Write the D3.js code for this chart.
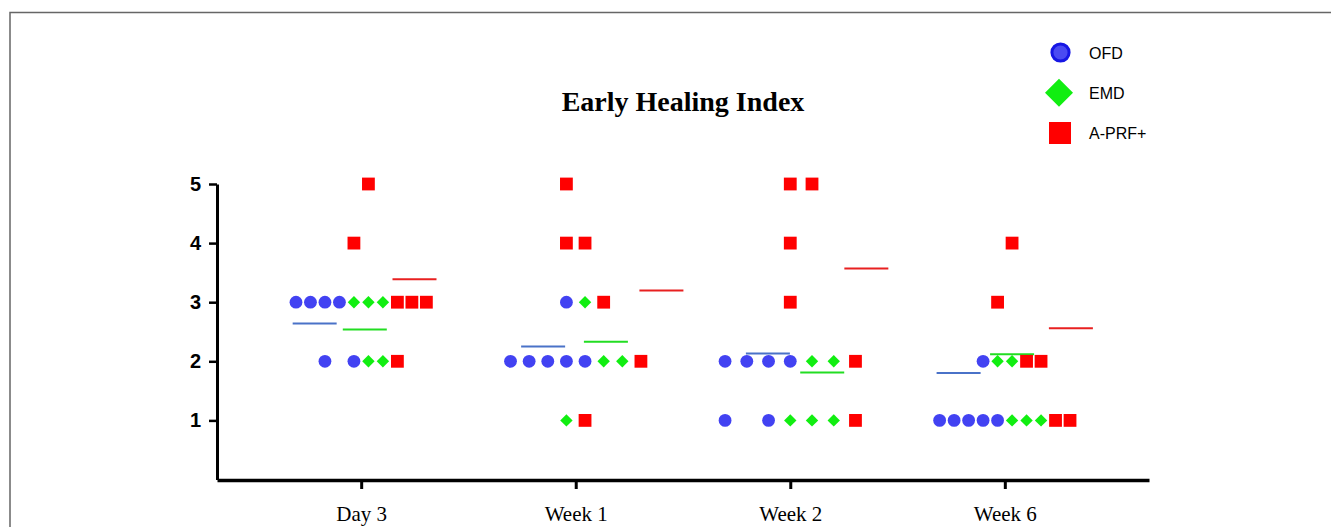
<!doctype html>
<html lang="en">
<head>
  <meta charset="UTF-8">
  <title>Early Healing Index</title>
  <script src="https://cdn.jsdelivr.net/npm/d3@7"></script>
  <style>
    body { margin: 0; background: #fff; }
  </style>
</head>
<body>
<div id="chart"></div>
<script type="text/javascript">
var groups = ['Day 3', 'Week 1', 'Week 2', 'Week 6'];
// number of side-by-side columns used by the scatter in each group
var slotCount = [10, 8, 7, 10];

var seriesNames = ['OFD', 'EMD', 'A-PRF+'];

// [group, score, column]
var ofdPoints = [
  ['Day 3', 3, 0], ['Day 3', 3, 1], ['Day 3', 3, 2], ['Day 3', 3, 3], ['Day 3', 2, 2], ['Day 3', 2, 4],
  ['Week 1', 3, 3], ['Week 1', 2, 0], ['Week 1', 2, 1], ['Week 1', 2, 2], ['Week 1', 2, 3], ['Week 1', 2, 4],
  ['Week 2', 2, 0], ['Week 2', 2, 1], ['Week 2', 2, 2], ['Week 2', 2, 3], ['Week 2', 1, 0], ['Week 2', 1, 2],
  ['Week 6', 2, 3], ['Week 6', 1, 0], ['Week 6', 1, 1], ['Week 6', 1, 2], ['Week 6', 1, 3], ['Week 6', 1, 4]
];
var emdPoints = [
  ['Day 3', 3, 4], ['Day 3', 3, 5], ['Day 3', 3, 6], ['Day 3', 2, 5], ['Day 3', 2, 6],
  ['Week 1', 3, 4], ['Week 1', 2, 5], ['Week 1', 2, 6], ['Week 1', 1, 3],
  ['Week 2', 2, 4], ['Week 2', 2, 5], ['Week 2', 1, 3], ['Week 2', 1, 4], ['Week 2', 1, 5],
  ['Week 6', 2, 4], ['Week 6', 2, 5], ['Week 6', 1, 5], ['Week 6', 1, 6], ['Week 6', 1, 7]
];
var aprfPoints = [
  ['Day 3', 5, 5], ['Day 3', 4, 4], ['Day 3', 3, 7], ['Day 3', 3, 8], ['Day 3', 3, 9], ['Day 3', 2, 7],
  ['Week 1', 5, 3], ['Week 1', 4, 3], ['Week 1', 4, 4], ['Week 1', 3, 5], ['Week 1', 2, 7], ['Week 1', 1, 4],
  ['Week 2', 5, 3], ['Week 2', 5, 4], ['Week 2', 4, 3], ['Week 2', 3, 3], ['Week 2', 2, 6], ['Week 2', 1, 6],
  ['Week 6', 4, 5], ['Week 6', 3, 4], ['Week 6', 2, 6], ['Week 6', 2, 7], ['Week 6', 1, 8], ['Week 6', 1, 9]
];

// mean per group, and the column the mean bar is centred on
var ofdMean = [2.64, 2.25, 2.13, 1.80];
var emdMean = [2.54, 2.33, 1.81, 2.12];
var aprfMean = [3.39, 3.20, 3.57, 2.56];
var ofdMeanCol = [1.29, 1.75, 1.97, 1.31];
var emdMeanCol = [4.75, 5.12, 4.47, 5.0];
var aprfMeanCol = [8.18, 8.10, 6.5, 9.06];

var yTicks = [1, 2, 3, 4, 5];

var width = 1331, height = 527;
var svg = d3.select('#chart').append('svg')
  .attr('width', width)
  .attr('height', height);

// frame
svg.append('rect')
  .attr('x', 10).attr('y', 12.5)
  .attr('width', width + 20).attr('height', height + 20)
  .attr('fill', 'none')
  .attr('stroke', '#666')
  .attr('stroke-width', 1.5);

var x = d3.scalePoint().domain(groups).range([217, 1149]).padding(0.672);
var y = d3.scaleLinear().domain([0, 5]).range([479.5, 184]);

function inner(g) {
  var n = slotCount[groups.indexOf(g)];
  return d3.scaleLinear().domain([0, n - 1]).range([-65.2, 65.2]);
}
function px(d) { return x(d[0]) + inner(d[0])(d[2]); }

// axes
var yAxis = svg.append('g')
  .attr('transform', 'translate(217,0)')
  .call(d3.axisLeft(y).tickValues(yTicks).tickFormat(d3.format('d'))
    .tickSize(8).tickSizeOuter(0).tickPadding(8));
yAxis.select('.domain').attr('stroke-width', 3).attr('stroke', '#000');
yAxis.selectAll('.tick line').attr('stroke-width', 2.5).attr('stroke', '#000');
yAxis.selectAll('.tick text')
  .style('font-family', 'Liberation Sans, Arial, sans-serif')
  .style('font-weight', 'bold')
  .style('font-size', '20px')
  .attr('fill', '#000');

var xAxis = svg.append('g')
  .attr('transform', 'translate(0,480)')
  .call(d3.axisBottom(x).tickSize(9).tickSizeOuter(0).tickPadding(17));
xAxis.select('.domain').attr('stroke-width', 3.5).attr('stroke', '#000');
xAxis.selectAll('.tick line').attr('stroke-width', 3).attr('stroke', '#000');
xAxis.selectAll('.tick text')
  .style('font-family', 'Liberation Serif, Times New Roman, serif')
  .style('font-size', '21px')
  .attr('fill', '#000');

// title
svg.append('text')
  .attr('x', 683).attr('y', 111)
  .attr('text-anchor', 'middle')
  .style('font-family', 'Liberation Serif, Times New Roman, serif')
  .style('font-weight', 'bold')
  .style('font-size', '28px')
  .text('Early Healing Index');

// mean bars
function meanBars(means, cols, color) {
  svg.append('g').selectAll('line')
    .data(groups)
    .enter().append('line')
    .attr('x1', function(g, i) { return x(g) + inner(g)(cols[i]) - 22; })
    .attr('x2', function(g, i) { return x(g) + inner(g)(cols[i]) + 22; })
    .attr('y1', function(g, i) { return y(means[i]); })
    .attr('y2', function(g, i) { return y(means[i]); })
    .attr('stroke', color)
    .attr('stroke-width', 2);
}
meanBars(ofdMean, ofdMeanCol, '#4a72c8');
meanBars(emdMean, emdMeanCol, '#22dd22');
meanBars(aprfMean, aprfMeanCol, '#e82020');

// points
svg.append('g').selectAll('circle')
  .data(ofdPoints)
  .enter().append('circle')
  .attr('cx', px)
  .attr('cy', function(d) { return y(d[1]); })
  .attr('r', 6.4)
  .attr('fill', '#4242f2');

svg.append('g').selectAll('path')
  .data(emdPoints)
  .enter().append('path')
  .attr('transform', function(d) { return 'translate(' + px(d) + ',' + y(d[1]) + ')'; })
  .attr('d', 'M0,-6.2L6.2,0L0,6.2L-6.2,0Z')
  .attr('fill', '#11ee11');

svg.append('g').selectAll('rect')
  .data(aprfPoints)
  .enter().append('rect')
  .attr('x', function(d) { return px(d) - 6.4; })
  .attr('y', function(d) { return y(d[1]) - 6.4; })
  .attr('width', 12.8)
  .attr('height', 12.8)
  .attr('fill', '#ff0000');

// legend
var legend = svg.append('g');
var legendY = d3.scalePoint().domain(seriesNames).range([52.5, 133]);
legend.append('circle')
  .attr('cx', 1060.5).attr('cy', legendY('OFD'))
  .attr('r', 8.6)
  .attr('fill', '#4a4af2')
  .attr('stroke', '#1616e4')
  .attr('stroke-width', 3);
legend.append('path')
  .attr('transform', 'translate(1059,' + legendY('EMD') + ')')
  .attr('d', 'M0,-14L14,0L0,14L-14,0Z')
  .attr('fill', '#11ee11');
legend.append('rect')
  .attr('x', 1049).attr('y', legendY('A-PRF+') - 11)
  .attr('width', 22).attr('height', 22)
  .attr('fill', '#ff0000');
legend.selectAll('text')
  .data(seriesNames)
  .enter().append('text')
  .attr('x', 1089)
  .attr('y', function(d) { return legendY(d) + 6; })
  .style('font-family', 'Liberation Sans, Arial, sans-serif')
  .style('font-size', '16px')
  .text(function(d) { return d; });
</script>
</body>
</html>
